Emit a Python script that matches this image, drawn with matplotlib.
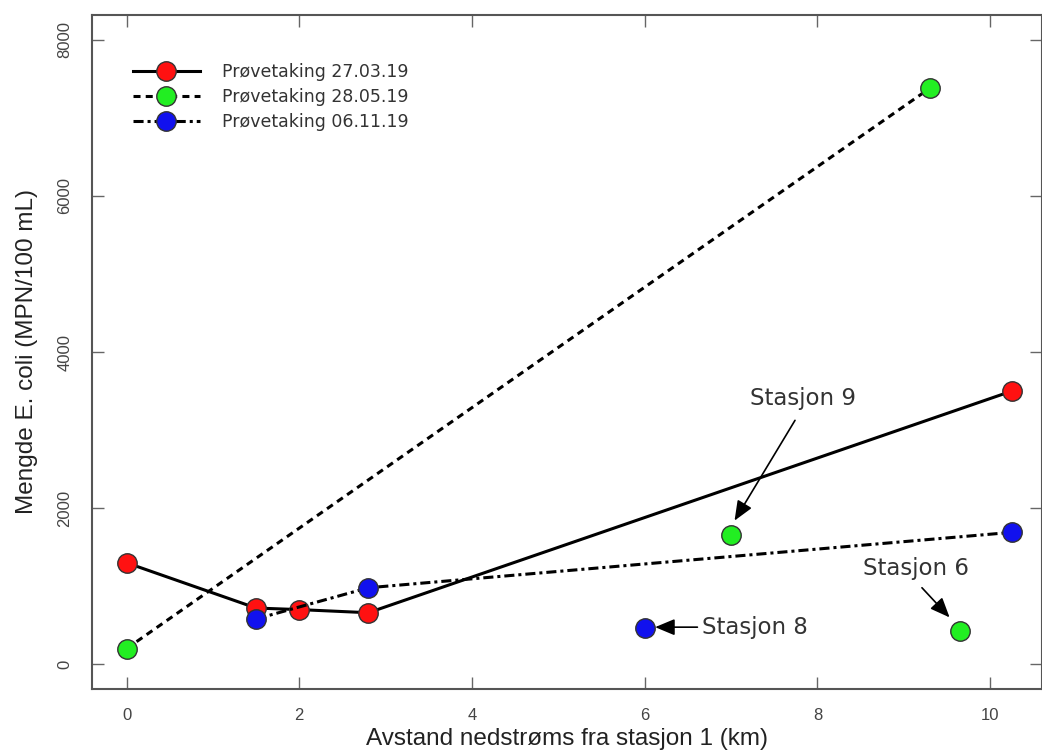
import matplotlib
matplotlib.use("Agg")
from matplotlib import pyplot as plt

# data
dist_27mar = [0, 1.5, 2.0, 2.8, 10.25]
ecoli_27mar = [1300, 720, 700, 660, 3500]

dist_28may = [0, 9.3]
ecoli_28may = [200, 7380]
extra_28may_x = [7.0, 9.65]        # Stasjon 9, Stasjon 6
extra_28may_y = [1650, 420]

dist_06nov = [1.5, 2.8, 10.25]
ecoli_06nov = [580, 980, 1690]
extra_06nov_x = [6.0]              # Stasjon 8
extra_06nov_y = [470]

fig = plt.figure(figsize=(10.42, 7.51), dpi=100)
ax = fig.add_axes([0.0883, 0.0826, 0.9117, 0.8975])

mk = dict(marker='o', markersize=14, markeredgecolor='#333333', markeredgewidth=1.0)
lw = 2.2

ax.plot(dist_28may, ecoli_28may, color='black', lw=lw, linestyle=(0, (2.3, 1.7)),
        markerfacecolor='#22ee22', label='Prøvetaking 28.05.19', **mk)
ax.plot(extra_28may_x, extra_28may_y, linestyle='none', markerfacecolor='#22ee22', **mk)

ax.plot(dist_27mar, ecoli_27mar, color='black', lw=lw, linestyle='-',
        markerfacecolor='#ff1111', label='Prøvetaking 27.03.19', **mk)

ax.plot(dist_06nov, ecoli_06nov, color='black', lw=lw, linestyle=(0, (3.3, 1.3, 1.0, 1.3)),
        markerfacecolor='#1111ee', label='Prøvetaking 06.11.19', **mk)
ax.plot(extra_06nov_x, extra_06nov_y, linestyle='none', markerfacecolor='#1111ee', **mk)

ax.set_xlim(-0.40, 10.6)
ax.set_ylim(-317, 8320)
ax.set_xticks([0, 2, 4, 6, 8, 10])
ax.set_yticks([0, 2000, 4000, 6000, 8000])
ax.tick_params(direction='in', length=8.5, width=1.0, color='#666666',
               labelcolor='#444444', labelsize=12, top=True, right=True)
ax.tick_params(axis='x', pad=14)
ax.tick_params(axis='y', pad=14)
for lab in ax.get_xticklabels() + ax.get_yticklabels():
    lab.set_family('Liberation Sans')
for lab in ax.get_yticklabels():
    lab.set_rotation(90)
    lab.set_va('center')
for s in ax.spines.values():
    s.set_color('#555555')
    s.set_linewidth(1.5)

ax.set_xlabel('Avstand nedstrøms fra stasjon 1 (km)', family='Liberation Sans',
              fontsize=17.5, color='#222222', labelpad=3)
ax.set_ylabel('Mengde E. coli (MPN/100 mL)', family='Liberation Sans',
              fontsize=17.5, color='#222222', labelpad=14)

handles, labels = ax.get_legend_handles_labels()
order = [1, 0, 2]
ax.legend([handles[i] for i in order], [labels[i] for i in order],
          loc='upper left', bbox_to_anchor=(0.043, 0.928), frameon=False,
          borderaxespad=0, borderpad=0,
          fontsize=12.5, handlelength=3.85, labelspacing=0.38, handletextpad=1.26,
          labelcolor='#333333')

txt = dict(fontsize=16.5, color='#333333', family='DejaVu Sans')
arr = dict(arrowstyle='-|>,head_length=0.6,head_width=0.25', color='black',
           lw=1.2, mutation_scale=20, shrinkA=0, shrinkB=0)
ax.text(7.83, 3400, 'Stasjon 9', ha='center', va='center', **txt)
ax.annotate('', xy=(7.04, 1840), xytext=(7.74, 3125), arrowprops=arr)
ax.text(9.14, 1221, 'Stasjon 6', ha='center', va='center', **txt)
ax.annotate('', xy=(9.53, 600), xytext=(9.21, 980), arrowprops=arr)
ax.text(6.66, 465, 'Stasjon 8', ha='left', va='center', **txt)
ax.annotate('', xy=(6.12, 475), xytext=(6.61, 475), arrowprops=arr)

fig.savefig('out.png', dpi=100)
